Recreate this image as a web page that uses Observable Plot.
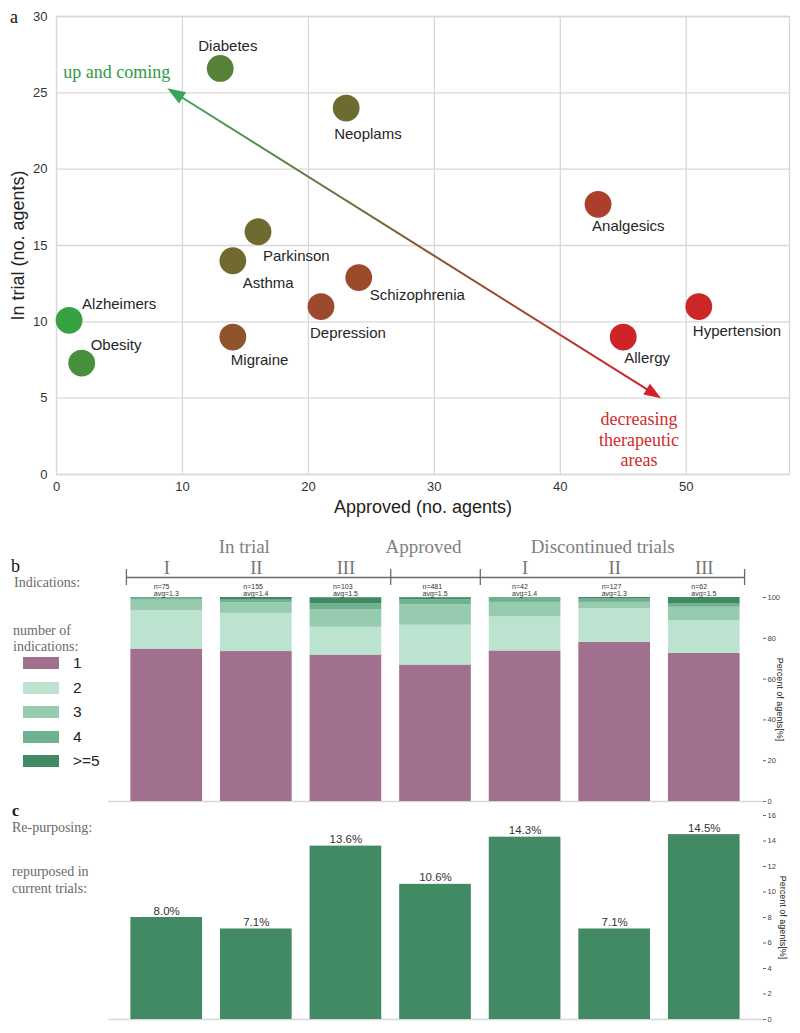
<!DOCTYPE html>
<html><head><meta charset="utf-8">
<script src="https://cdn.jsdelivr.net/npm/d3@7"></script>
<script src="https://cdn.jsdelivr.net/npm/@observablehq/plot@0.6"></script>
<style>
body{margin:0;background:#fff;}
#root{position:relative;width:800px;height:1033px;overflow:hidden;background:#fff;}
.panel{position:absolute;left:0;}
.lbl{position:absolute;white-space:nowrap;transform:translateY(-50%);line-height:1;}
.serif{font-family:"Liberation Serif","Times New Roman",serif;}
.sans{font-family:"Liberation Sans",Arial,Helvetica,sans-serif;}
.sw{position:absolute;width:36px;height:12px;transform:translateY(-50%);}
</style></head><body><div id="root"></div>
<script>
// ---------- DATA ----------
// Panel a: therapeutic areas
const diseases = ["Diabetes","Neoplams","Parkinson","Asthma","Alzheimers","Obesity","Migraine","Depression","Schizophrenia","Analgesics","Allergy","Hypertension"];
const approvedAgents = [13, 23, 16, 14, 1, 2, 14, 21, 24, 43, 45, 51];
const trialAgents = [26.6, 24.0, 15.9, 14.0, 10.1, 7.3, 9.0, 11.0, 12.9, 17.7, 9.0, 11.0];
const approvedTicks = [0, 10, 20, 30, 40, 50];
const trialTicks = [0, 5, 10, 15, 20, 25, 30];
const trendArrow = {greenX: 8.8, greenY: 25.3, redX: 48.0, redY: 5.0};
const trendLabels = ["up and coming", "decreasing\ntherapeutic\nareas"];

// Panel b / c: development stages
const stageNumerals = ["I","II","III","","I","II","III"];
const stageGroup = ["In trial","In trial","In trial","Approved","Discontinued trials","Discontinued trials","Discontinued trials"];
const groupNames = ["In trial","Approved","Discontinued trials"];
const nAgents = [75, 155, 103, 481, 42, 127, 62];
const avgIndications = [1.3, 1.4, 1.5, 1.5, 1.4, 1.3, 1.5];
const indicationLevels = ["1","2","3","4",">=5"];
const share1 = [74.7, 73.5, 71.8, 66.9, 73.8, 78.0, 72.6];
const share2 = [18.7, 18.7, 13.6, 19.5, 16.7, 16.5, 16.1];
const share3 = [5.3, 5.2, 8.7, 10.0, 7.1, 3.1, 6.5];
const share4 = [1.3, 1.3, 2.9, 2.5, 2.4, 1.6, 1.6];
const share5 = [0.0, 1.3, 2.9, 1.0, 0.0, 0.8, 3.2];
const pctTicksB = [0, 20, 40, 60, 80, 100];
const repurposedPct = [8.0, 7.1, 13.6, 10.6, 14.3, 7.1, 14.5];
const pctTicksC = [0, 2, 4, 6, 8, 10, 12, 14, 16];

// ---------- STYLE ----------
const SANS = '"Liberation Sans", Arial, Helvetica, sans-serif';
const SERIF = '"Liberation Serif", "Times New Roman", serif';
const levelColors = ["#a2708f", "#bce3cf", "#97cbb0", "#6fb291", "#3f8a63"];
const barGreen = "#418a64";
const labelPlace = {
  Diabetes: [-22, -22], Neoplams: [-12, 26], Parkinson: [5, 24], Asthma: [10, 22],
  Alzheimers: [13, -16], Obesity: [9, -18], Migraine: [-2, 23], Depression: [-11, 27],
  Schizophrenia: [11, 18], Analgesics: [-6, 22], Allergy: [1, 21], Hypertension: [-6, 25]
};

const root = document.getElementById("root");
function addPanel(svg, top) {
  svg.classList.add("panel");
  svg.style.top = top + "px";
  root.appendChild(svg);
}
function addLabel(text, left, cy, cls, size, color, weight) {
  const d = document.createElement("div");
  d.className = "lbl " + cls;
  d.textContent = text;
  d.style.left = left + "px"; d.style.top = cy + "px";
  d.style.fontSize = size + "px"; d.style.color = color;
  if (weight) d.style.fontWeight = weight;
  root.appendChild(d);
}

// ---------- PANEL A ----------
const pts = diseases.map((name, i) => ({
  name, approved: approvedAgents[i], trial: trialAgents[i],
  share: approvedAgents[i] / (approvedAgents[i] + trialAgents[i])
}));
const W = 800, HA = 520, mA = {l: 56, r: 11, t: 16, b: 46};
const xDomA = [0, 58.2], yDomA = [0, 30];
const kx = (W - mA.l - mA.r) / (xDomA[1] - xDomA[0]);
const ky = (HA - mA.t - mA.b) / (yDomA[1] - yDomA[0]);
const sdx = (trendArrow.greenX - trendArrow.redX) * kx;
const sdy = -(trendArrow.greenY - trendArrow.redY) * ky;
const angGreen = Math.atan2(sdx, -sdy) * 180 / Math.PI;
const angRed = angGreen + 180;
const pxLen = Math.hypot(sdx, sdy);
const cut = 8 / pxLen;
const trendLine = [{
  x1: trendArrow.greenX + (trendArrow.redX - trendArrow.greenX) * cut,
  y1: trendArrow.greenY + (trendArrow.redY - trendArrow.greenY) * cut,
  x2: trendArrow.redX - (trendArrow.redX - trendArrow.greenX) * cut,
  y2: trendArrow.redY - (trendArrow.redY - trendArrow.greenY) * cut
}];
const arrowHead = {
  draw(ctx, size) {
    const L = Math.sqrt(size / Math.PI), w = L * 0.37;
    ctx.moveTo(0, 0); ctx.lineTo(w, L); ctx.lineTo(-w, L); ctx.closePath();
  }
};

const plotA = Plot.plot({
  width: W, height: HA,
  marginLeft: mA.l, marginRight: mA.r, marginTop: mA.t, marginBottom: mA.b,
  style: {fontFamily: SANS, background: "transparent", overflow: "visible"},
  x: {domain: xDomA},
  y: {domain: yDomA},
  color: {type: "linear", domain: [0.1, 0.5, 0.85], range: ["#36a040", "#706a30", "#d32127"], interpolate: "rgb"},
  marks: [
    Plot.gridX(approvedTicks, {stroke: "#d8d8d8", strokeOpacity: 1, strokeWidth: 1.3}),
    Plot.gridY(trialTicks, {stroke: "#d8d8d8", strokeOpacity: 1, strokeWidth: 1.3}),
    Plot.frame({stroke: "#d8d8d8", strokeWidth: 1.3}),
    Plot.axisX({ticks: approvedTicks, tickSize: 0, tickPadding: 7, fontSize: 13, fill: "#333", label: null}),
    Plot.axisY({ticks: trialTicks, tickSize: 0, tickPadding: 9, fontSize: 13, fill: "#333", label: null}),
    Plot.text(["Approved (no. agents)"], {text: d => d, frameAnchor: "bottom", lineAnchor: "middle", textAnchor: "middle", dy: 33, fontSize: 18, fill: "#222"}),
    Plot.text(["In trial (no. agents)"], {text: d => d, frameAnchor: "left", lineAnchor: "middle", textAnchor: "middle", rotate: -90, dx: -38, fontSize: 18, fill: "#222"}),
    Plot.link(trendLine, {x1: "x1", y1: "y1", x2: "x2", y2: "y2", stroke: "url(#trendGrad)", strokeWidth: 2}),
    Plot.dot([trendArrow], {x: "greenX", y: "greenY", symbol: arrowHead, r: 18, fill: "#38a35a", rotate: angGreen}),
    Plot.dot([trendArrow], {x: "redX", y: "redY", symbol: arrowHead, r: 17, fill: "#d42027", rotate: angRed}),
    Plot.text([trendArrow], {x: "greenX", y: "greenY", text: () => trendLabels[0], textAnchor: "end", dx: 3, dy: -16, fontFamily: SERIF, fontSize: 18, fill: "#2f9a44"}),
    Plot.text([trendArrow], {x: "redX", y: "redY", text: () => trendLabels[1], textAnchor: "middle", lineAnchor: "top", lineHeight: 1.15, dx: -22, dy: 12, fontFamily: SERIF, fontSize: 18, fill: "#d42a2a"}),
    Plot.dot(pts, {x: "approved", y: "trial", r: 13.4, fill: "share"}),
    ...pts.map(p => Plot.text([p], {x: "approved", y: "trial", text: "name", textAnchor: "start",
      dx: labelPlace[p.name][0], dy: labelPlace[p.name][1], fontSize: 15, fill: "#262626"}))
  ]
});
const defs = document.createElementNS("http://www.w3.org/2000/svg", "defs");
defs.innerHTML = '<linearGradient id="trendGrad" x1="0" y1="0" x2="1" y2="1">' +
  '<stop offset="0" stop-color="#38a35a"/><stop offset="0.5" stop-color="#7d5b30"/><stop offset="1" stop-color="#d42027"/></linearGradient>';
plotA.insertBefore(defs, plotA.firstChild);
addPanel(plotA, 0);
addLabel("a", 10, 17, "serif", 18, "#111");

// ---------- PANEL B ----------
const stages = stageNumerals.map((num, i) => ({idx: i, num, group: stageGroup[i], n: nAgents[i], avg: avgIndications[i], rep: repurposedPct[i]}));
const shares = [share1, share2, share3, share4, share5];
const stackRows = [];
stages.forEach((s, i) => {
  let acc = 0;
  shares.forEach((arr, k) => {
    stackRows.push({idx: i, level: indicationLevels[k], y1: acc, y2: acc + arr[i]});
    acc += arr[i];
  });
});
const groupRows = groupNames.map(g => {
  const m = stages.filter(s => s.group === g);
  return {g, idx: d3.mean(m, s => s.idx)};
});
const bracketEnds = [0 - 0.45, stages.length - 1 + 0.45];
const bracketTicks = [bracketEnds[0]];
stages.forEach((s, i) => { if (i < stages.length - 1 && s.group !== stages[i + 1].group) bracketTicks.push(i + 0.5); });
bracketTicks.push(bracketEnds[1]);
const xDomBC = [-0.65, stages.length - 1 + 0.65];
const half = 0.4;

const plotB = Plot.plot({
  width: W, height: 286, marginLeft: 108, marginRight: 38, marginTop: 77, marginBottom: 5,
  style: {fontFamily: SANS, background: "transparent", overflow: "visible"},
  x: {domain: xDomBC, axis: null},
  y: {domain: [0, 100]},
  color: {domain: indicationLevels, range: levelColors},
  marks: [
    Plot.ruleY([0], {stroke: "#d8d8d8", strokeWidth: 1.3}),
    Plot.rectY(stackRows, {x1: d => d.idx - half, x2: d => d.idx + half, y1: "y1", y2: "y2", fill: "level"}),
    Plot.axisY({anchor: "right", ticks: pctTicksB, tickSize: 3, tickPadding: 2, fontSize: 7.5, stroke: "#666", fill: "#444", label: null}),
    Plot.text(["Percent of agents[%]"], {text: d => d, frameAnchor: "right", textAnchor: "middle", lineAnchor: "middle", rotate: 90, dx: 17, fontSize: 9, fill: "#222"}),
    Plot.ruleY([100], {x1: () => bracketEnds[0], x2: () => bracketEnds[1], dy: -20, stroke: "#6a6a6a", strokeWidth: 1.3}),
    Plot.ruleX(bracketTicks, {x: d => d, insetTop: -28, insetBottom: 216, stroke: "#6a6a6a", strokeWidth: 1.3}),
    Plot.text(stages.filter(s => s.num), {x: "idx", text: "num", frameAnchor: "top", lineAnchor: "middle", dy: -29, fontFamily: SERIF, fontSize: 18.5, fill: "#747474"}),
    Plot.text(groupRows, {x: "idx", text: "g", frameAnchor: "top", lineAnchor: "middle", dy: -51, dx: -12, fontFamily: SERIF, fontSize: 19, fill: "#808080"}),
    Plot.text(stages, {x: "idx", text: d => `n=${d.n}\navg=${d.avg.toFixed(1)}`, frameAnchor: "top", lineAnchor: "middle", dy: -7.5, dx: -13, textAnchor: "start", lineHeight: 1, fontSize: 7, fill: "#333"})
  ]
});
addPanel(plotB, 520);
addLabel("b", 11, 566, "serif", 18, "#111");
addLabel("Indications:", 14, 583, "serif", 14, "#6a6a6a");
addLabel("number of", 13, 631, "serif", 14, "#6a6a6a");
addLabel("indications:", 13, 647, "serif", 14, "#6a6a6a");
const legendY = [663, 687.5, 712, 736.5, 761];
indicationLevels.forEach((lv, k) => {
  const s = document.createElement("div");
  s.className = "sw"; s.style.left = "23px"; s.style.top = legendY[k] + "px"; s.style.background = levelColors[k];
  root.appendChild(s);
  addLabel(lv, 73, legendY[k], "sans", 15.5, "#222");
});

// ---------- PANEL C ----------
const plotC = Plot.plot({
  width: W, height: 227, marginLeft: 108, marginRight: 38, marginTop: 9, marginBottom: 14,
  style: {fontFamily: SANS, background: "transparent", overflow: "visible"},
  x: {domain: xDomBC, axis: null},
  y: {domain: [0, 16]},
  marks: [
    Plot.ruleY([0], {stroke: "#d8d8d8", strokeWidth: 1.3}),
    Plot.rectY(stages, {x1: d => d.idx - half, x2: d => d.idx + half, y1: () => 0, y2: "rep", fill: barGreen}),
    Plot.text(stages, {x: "idx", y: "rep", text: d => d.rep.toFixed(1) + "%", lineAnchor: "bottom", dy: -3, fontSize: 11.5, fill: "#333"}),
    Plot.axisY({anchor: "right", ticks: pctTicksC, tickSize: 3, tickPadding: 2, fontSize: 7.5, stroke: "#666", fill: "#444", label: null}),
    Plot.text(["Percent of agents[%]"], {text: d => d, frameAnchor: "right", textAnchor: "middle", lineAnchor: "middle", rotate: 90, dx: 20, fontSize: 9, fill: "#222"})
  ]
});
addPanel(plotC, 806);
addLabel("c", 12, 811, "serif", 16, "#111", "bold");
addLabel("Re-purposing:", 12, 828, "serif", 14, "#6a6a6a");
addLabel("repurposed in", 12, 872, "serif", 14, "#6a6a6a");
addLabel("current trials:", 12, 889, "serif", 14, "#6a6a6a");
</script></body></html>
